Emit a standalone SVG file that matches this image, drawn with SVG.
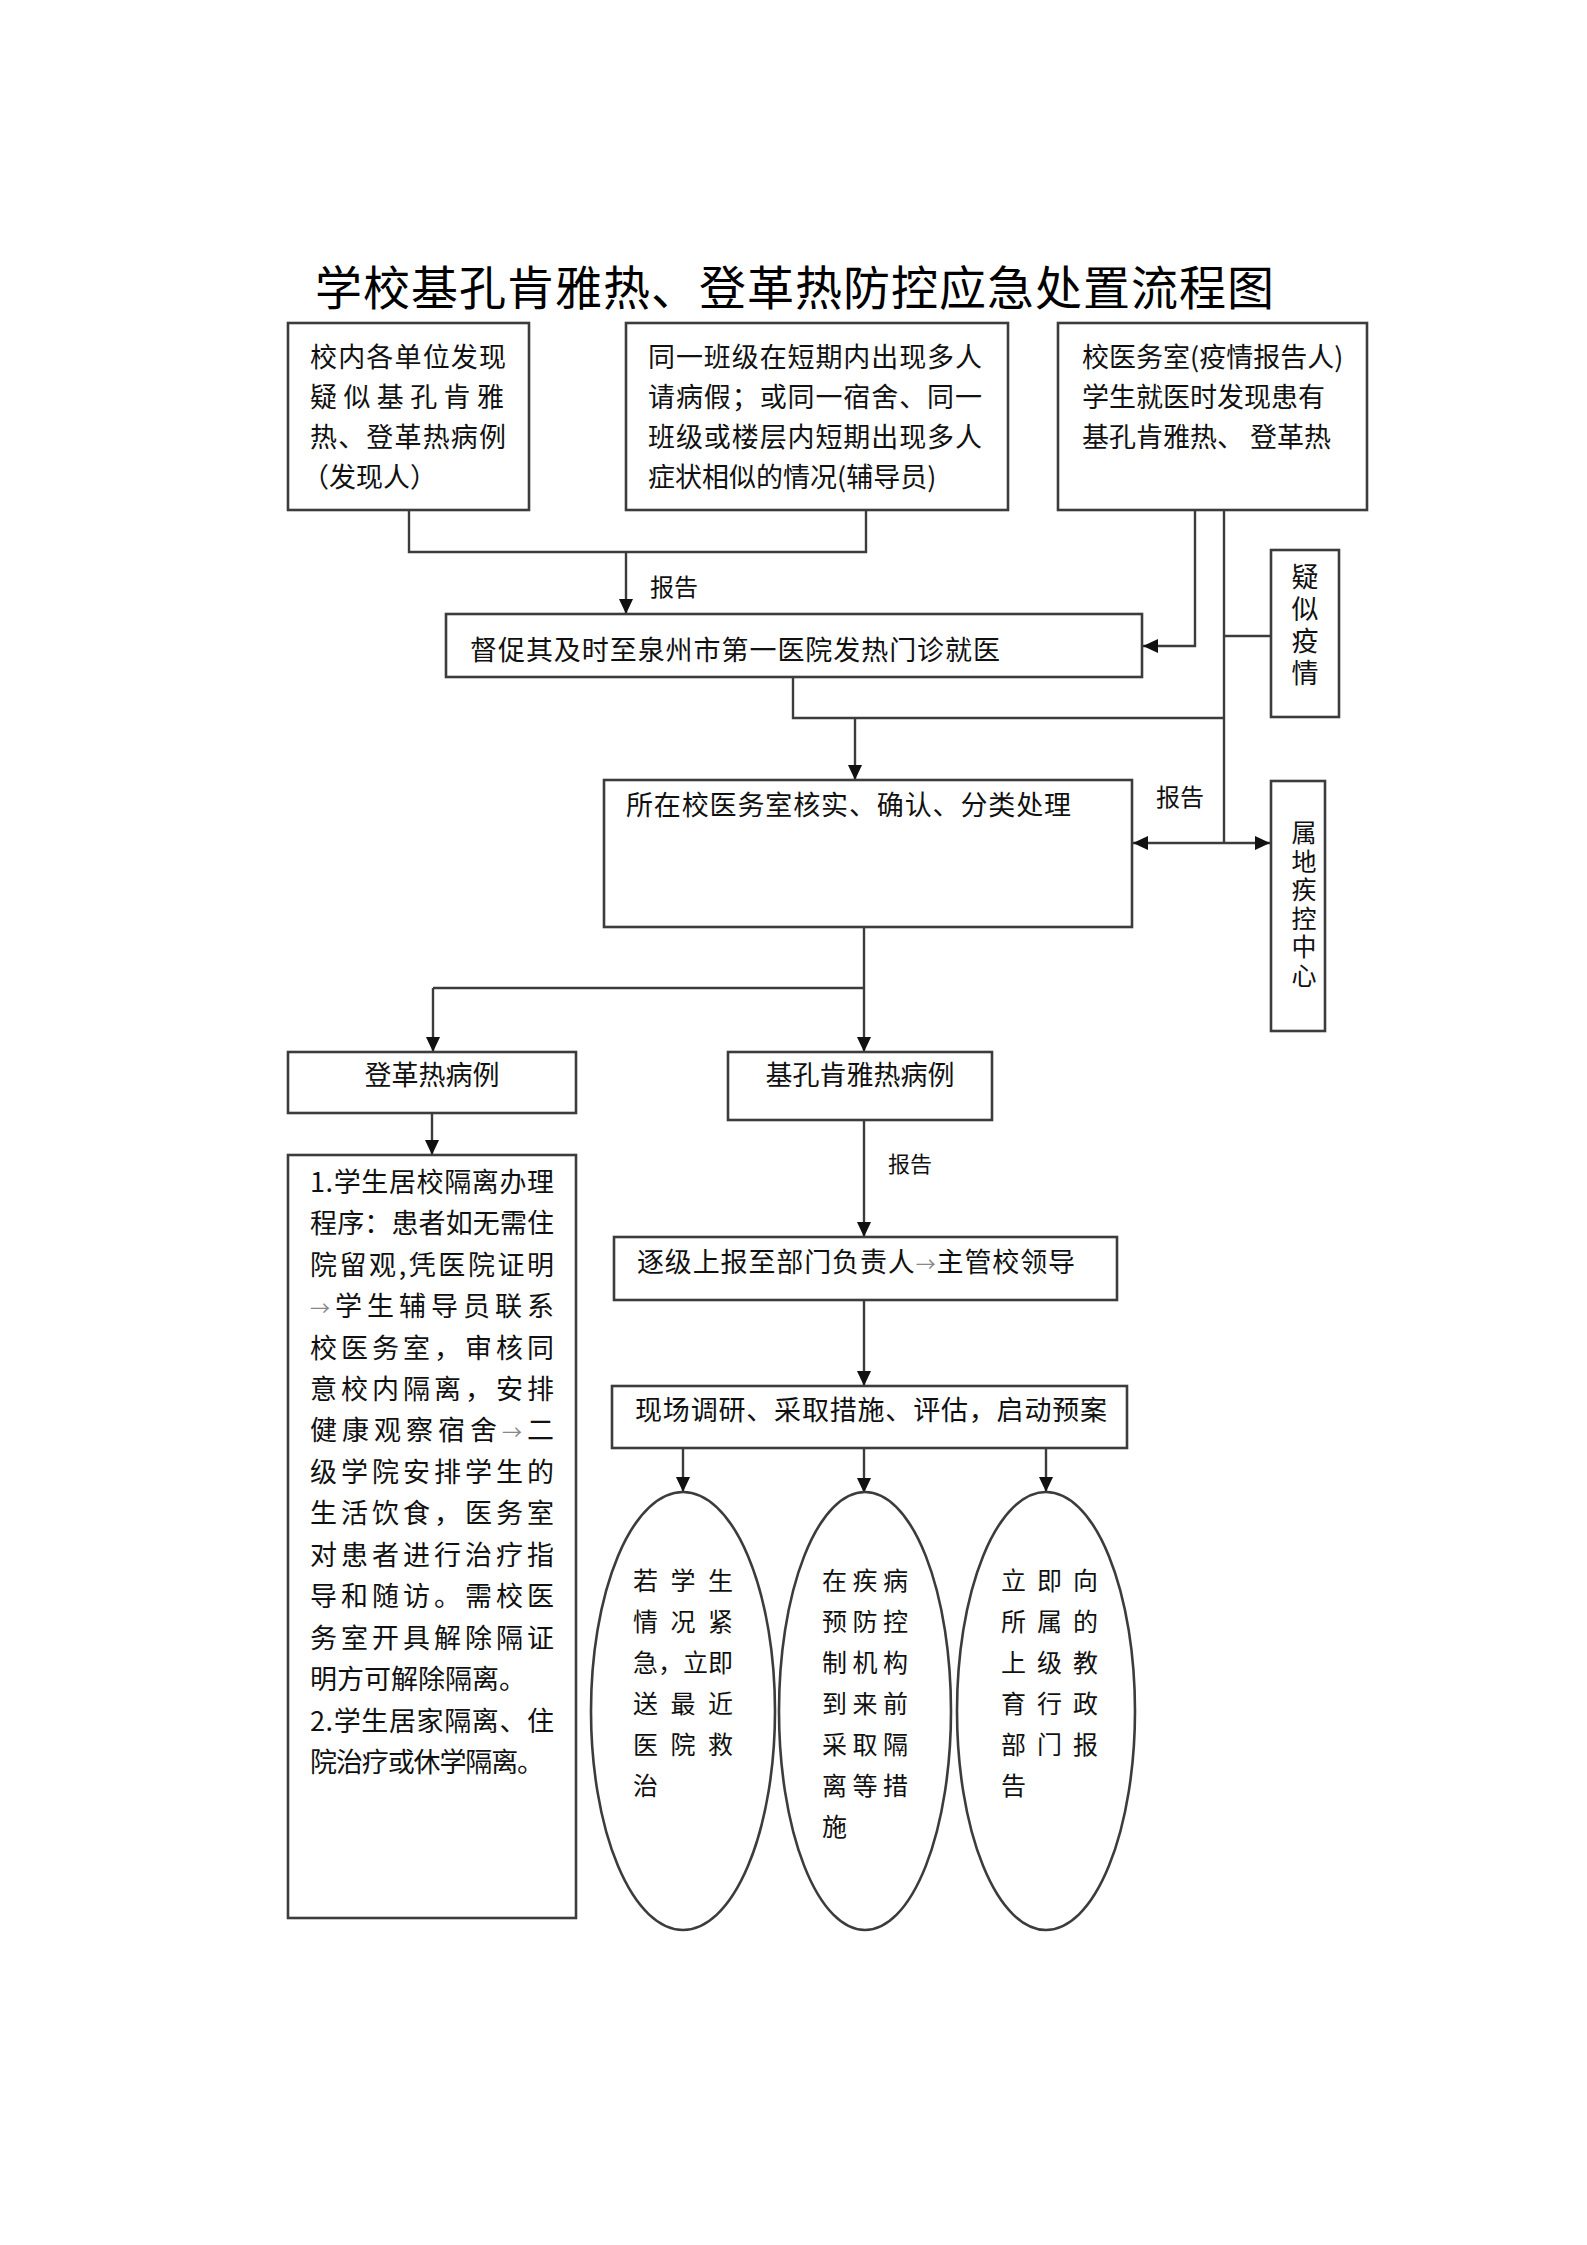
<svg xmlns="http://www.w3.org/2000/svg" width="1587" height="2245" viewBox="0 0 1587 2245">
<defs>
<style>
.box{fill:#fff;stroke:#3c3c3c;stroke-width:2.6}
.ln{fill:none;stroke:#3c3c3c;stroke-width:2.4}
.t{font-family:"Noto Sans CJK SC","Noto Sans CJK TC",sans-serif;font-size:27px;fill:#111}
.s{font-size:25px}
.v{writing-mode:tb;text-orientation:upright}
.lab{font-family:"Noto Sans CJK SC",sans-serif;font-size:24px;fill:#111}
.title{font-family:"Noto Sans CJK SC",sans-serif;font-size:47px;fill:#000}
.ga{fill:#888;font-size:20px}
</style>
<marker id="ah" markerUnits="userSpaceOnUse" markerWidth="16" markerHeight="14" refX="15" refY="7" orient="auto-start-reverse">
<path d="M0,0 L15,7 L0,14 z" fill="#111"/>
</marker>
</defs>
<rect width="1587" height="2245" fill="#fff"/>
<text class="title" x="315" y="305" textLength="959" lengthAdjust="spacing">学校基孔肯雅热、登革热防控应急处置流程图</text>

<g id="connectors">
<polyline class="ln" points="409,510 409,552 866,552 866,510"/>
<line class="ln" x1="626" y1="552" x2="626" y2="614" marker-end="url(#ah)"/>
<polyline class="ln" points="1195,510 1195,646 1143,646" marker-end="url(#ah)"/>
<line class="ln" x1="1224" y1="510" x2="1224" y2="843"/>
<line class="ln" x1="1224" y1="636" x2="1271" y2="636"/>
<polyline class="ln" points="793,677 793,718 1224,718"/>
<line class="ln" x1="855" y1="718" x2="855" y2="780" marker-end="url(#ah)"/>
<line class="ln" x1="1133" y1="843" x2="1270" y2="843" marker-start="url(#ah)" marker-end="url(#ah)"/>
<line class="ln" x1="864" y1="927" x2="864" y2="988"/>
<line class="ln" x1="433" y1="988" x2="864" y2="988"/>
<line class="ln" x1="433" y1="988" x2="433" y2="1052" marker-end="url(#ah)"/>
<line class="ln" x1="864" y1="988" x2="864" y2="1052" marker-end="url(#ah)"/>
<line class="ln" x1="432" y1="1113" x2="432" y2="1155" marker-end="url(#ah)"/>
<line class="ln" x1="864" y1="1120" x2="864" y2="1237" marker-end="url(#ah)"/>
<line class="ln" x1="864" y1="1300" x2="864" y2="1386" marker-end="url(#ah)"/>
<line class="ln" x1="683" y1="1448" x2="683" y2="1492" marker-end="url(#ah)"/>
<line class="ln" x1="864" y1="1448" x2="864" y2="1493" marker-end="url(#ah)"/>
<line class="ln" x1="1046" y1="1448" x2="1046" y2="1492" marker-end="url(#ah)"/>
<text class="lab" x="650" y="596">报告</text>
<text class="lab" x="1156" y="806">报告</text>
<text class="lab" x="888" y="1172" style="font-size:22px">报告</text>
</g>

<g id="n1">
<rect class="box" x="288" y="323" width="241" height="187"/>
<text class="t" x="310" y="367" textLength="196" lengthAdjust="spacing">校内各单位发现</text>
<text class="t" x="310" y="407" textLength="194" lengthAdjust="spacing">疑似基孔肯雅</text>
<text class="t" x="310" y="447" textLength="196" lengthAdjust="spacing">热、登革热病例</text>
<text class="t" x="302" y="487">（发现人）</text>
</g>
<g id="n2">
<rect class="box" x="626" y="323" width="382" height="187"/>
<text class="t" x="648" y="367" textLength="334" lengthAdjust="spacing">同一班级在短期内出现多人</text>
<text class="t" x="648" y="407" textLength="334" lengthAdjust="spacing">请病假；或同一宿舍、同一</text>
<text class="t" x="648" y="447" textLength="334" lengthAdjust="spacing">班级或楼层内短期出现多人</text>
<text class="t" x="648" y="487">症状相似的情况(辅导员)</text>
</g>
<g id="n3">
<rect class="box" x="1058" y="323" width="309" height="187"/>
<text class="t" x="1082" y="367">校医务室(疫情报告人)</text>
<text class="t" x="1082" y="407">学生就医时发现患有</text>
<text class="t" x="1082" y="447">基孔肯雅热、 登革热</text>
</g>
<g id="n4">
<rect class="box" x="446" y="614" width="696" height="63"/>
<text class="t" x="470" y="660" textLength="530" lengthAdjust="spacing">督促其及时至泉州市第一医院发热门诊就医</text>
</g>
<g id="n5">
<rect class="box" x="1271" y="550" width="68" height="167"/>
<text class="t v" x="1305" y="563" letter-spacing="5">疑似疫情</text>
</g>
<g id="n6">
<rect class="box" x="604" y="780" width="528" height="147"/>
<text class="t" x="626" y="815" textLength="445" lengthAdjust="spacing">所在校医务室核实、确认、分类处理</text>
</g>
<g id="n7">
<rect class="box" x="1271" y="781" width="54" height="250"/>
<text class="t s v" x="1304" y="820" letter-spacing="3.5">属地疾控中心</text>
</g>
<g id="n8">
<rect class="box" x="288" y="1052" width="288" height="61"/>
<text class="t" x="432" y="1085" text-anchor="middle">登革热病例</text>
</g>
<g id="n9">
<rect class="box" x="728" y="1052" width="264" height="68"/>
<text class="t" x="860" y="1085" text-anchor="middle">基孔肯雅热病例</text>
</g>
<g id="n10">
<rect class="box" x="288" y="1155" width="288" height="763"/>
<text class="t" x="310" y="1192" textLength="244" lengthAdjust="spacing">1.学生居校隔离办理</text>
<text class="t" x="310" y="1233" textLength="244" lengthAdjust="spacing">程序：患者如无需住</text>
<text class="t" x="310" y="1275" textLength="244" lengthAdjust="spacing">院留观,凭医院证明</text>
<text class="t" x="310" y="1316" textLength="244" lengthAdjust="spacing"><tspan class="ga">→</tspan>学生辅导员联系</text>
<text class="t" x="310" y="1358" textLength="244" lengthAdjust="spacing">校医务室，审核同</text>
<text class="t" x="310" y="1399" textLength="244" lengthAdjust="spacing">意校内隔离，安排</text>
<text class="t" x="310" y="1440" textLength="244" lengthAdjust="spacing">健康观察宿舍<tspan class="ga">→</tspan>二</text>
<text class="t" x="310" y="1482" textLength="244" lengthAdjust="spacing">级学院安排学生的</text>
<text class="t" x="310" y="1523" textLength="244" lengthAdjust="spacing">生活饮食，医务室</text>
<text class="t" x="310" y="1565" textLength="244" lengthAdjust="spacing">对患者进行治疗指</text>
<text class="t" x="310" y="1606" textLength="244" lengthAdjust="spacing">导和随访。需校医</text>
<text class="t" x="310" y="1648" textLength="244" lengthAdjust="spacing">务室开具解除隔证</text>
<text class="t" x="310" y="1689">明方可解除隔离。</text>
<text class="t" x="310" y="1731" textLength="244" lengthAdjust="spacing">2.学生居家隔离、住</text>
<text class="t" x="310" y="1772" textLength="234" lengthAdjust="spacing">院治疗或休学隔离。</text>
</g>
<g id="n11">
<rect class="box" x="614" y="1237" width="503" height="63"/>
<text class="t" x="637" y="1272" textLength="438" lengthAdjust="spacing">逐级上报至部门负责人<tspan class="ga">→</tspan>主管校领导</text>
</g>
<g id="n12">
<rect class="box" x="612" y="1386" width="515" height="62"/>
<text class="t" x="635" y="1420" textLength="472" lengthAdjust="spacing">现场调研、采取措施、评估，启动预案</text>
</g>
<g id="n13">
<ellipse class="box" cx="683" cy="1711" rx="92" ry="219"/>
<text class="t s" x="633" y="1590" textLength="100" lengthAdjust="spacing">若学生</text>
<text class="t s" x="633" y="1631" textLength="100" lengthAdjust="spacing">情况紧</text>
<text class="t s" x="633" y="1672" textLength="100" lengthAdjust="spacing">急，立即</text>
<text class="t s" x="633" y="1713" textLength="100" lengthAdjust="spacing">送最近</text>
<text class="t s" x="633" y="1754" textLength="100" lengthAdjust="spacing">医院救</text>
<text class="t s" x="633" y="1795">治</text>
</g>
<g id="n14">
<ellipse class="box" cx="865" cy="1711" rx="86" ry="219"/>
<text class="t s" x="822" y="1590" textLength="86" lengthAdjust="spacing">在疾病</text>
<text class="t s" x="822" y="1631" textLength="86" lengthAdjust="spacing">预防控</text>
<text class="t s" x="822" y="1672" textLength="86" lengthAdjust="spacing">制机构</text>
<text class="t s" x="822" y="1713" textLength="86" lengthAdjust="spacing">到来前</text>
<text class="t s" x="822" y="1754" textLength="86" lengthAdjust="spacing">采取隔</text>
<text class="t s" x="822" y="1795" textLength="86" lengthAdjust="spacing">离等措</text>
<text class="t s" x="822" y="1836">施</text>
</g>
<g id="n15">
<ellipse class="box" cx="1046" cy="1711" rx="89" ry="219"/>
<text class="t s" x="1001" y="1590" textLength="97" lengthAdjust="spacing">立即向</text>
<text class="t s" x="1001" y="1631" textLength="97" lengthAdjust="spacing">所属的</text>
<text class="t s" x="1001" y="1672" textLength="97" lengthAdjust="spacing">上级教</text>
<text class="t s" x="1001" y="1713" textLength="97" lengthAdjust="spacing">育行政</text>
<text class="t s" x="1001" y="1754" textLength="97" lengthAdjust="spacing">部门报</text>
<text class="t s" x="1001" y="1795">告</text>
</g>
</svg>
